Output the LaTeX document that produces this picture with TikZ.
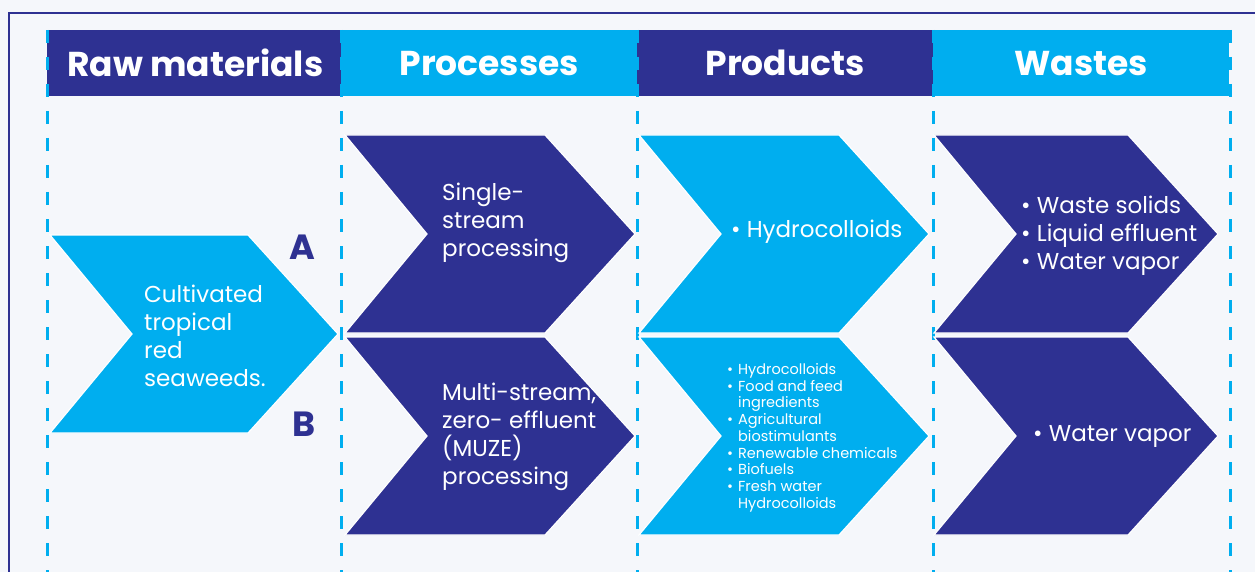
\documentclass[tikz,border=0pt]{standalone}
\usepackage{fontspec}
\setmainfont{Poppins}
\usetikzlibrary{calc}
\definecolor{navy}{HTML}{2E3192}
\definecolor{sky}{HTML}{00AEEF}
\definecolor{paper}{HTML}{F5F7FB}
\newcommand{\chevron}[3]{%
  \fill[#2, draw=white, line width=1.2pt] (#1) -- ++(#3-90,0) -- ++(90,99) -- ++(-90,99) -- ++(90-#3,0) -- ++(82,-99) -- cycle;
}
\tikzset{
  head/.style={anchor=north west, minimum width=296pt, minimum height=66pt, inner sep=0pt,
    text=white, font=\fontsize{34.5pt}{38pt}\selectfont\bfseries},
  body/.style={anchor=west, inner sep=0pt, text=white, align=left,
    font=\fontsize{23pt}{28pt}\selectfont},
  small/.style={anchor=west, inner sep=0pt, text=white,
    font=\fontsize{14.5pt}{16.7pt}\selectfont},
  letter/.style={inner sep=0pt, text=navy, font=\fontsize{35pt}{38pt}\selectfont\bfseries}
}
\begin{document}
\begin{tikzpicture}[x=1pt,y=-1pt]
    \fill[paper] (0,0) rectangle (1255,572);
    \useasboundingbox (0,0) rectangle (1255,572);
    \draw[navy, line width=2pt] (9,572) -- (9,13) -- (1255,13);
    \foreach \x/\name/\col [count=\i] in {47/Raw materials/navy, 341/Processes/sky, 637/Products/navy, 933/Wastes/sky}{
      \node[head, fill=\col] (head\i) at (\x,30) {\name};
    }
    \foreach \x in {47,341,637,933,1230}{
      \draw[sky, line width=3pt, dash pattern=on 13pt off 14pt] (\x,30) -- (\x,572);
    }
    \foreach \x/\y/\col/\w in {50/235/sky/288, 345/135/navy/290, 345/337/navy/290, 639/135/sky/290, 639/337/sky/290, 934/135/navy/284, 934/337/navy/284}{
      \chevron{\x,\y}{\col}{\w}
    }
    \node[body] (seaweed) at (144,336) {Cultivated\\tropical\\red\\seaweeds.};
    \node[body] (single) at (442,223) {Single-\\stream\\processing};
    \node[body] (muze) at (442,437) {Multi-stream,\\zero- effluent\\(MUZE)\\processing};
    \node[body] (prodA) at (731,232) {• Hydrocolloids};
    \node[small] (prodB) at (727,438) {\begin{tabular}{@{}l@{\hspace{5pt}}l@{}}
      •&Hydrocolloids\\ •&Food and feed\\ &ingredients\\ •&Agricultural\\ &biostimulants\\
      •&Renewable chemicals\\ •&Biofuels\\ •&Fresh water\\ &Hydrocolloids
    \end{tabular}};
    \node[body] (wasteA) at (1021,236) {• Waste solids\\• Liquid effluent\\• Water vapor};
    \node[body] (wasteB) at (1033,436) {• Water vapor};
    \node[letter] (optA) at (302,247) {A};
    \node[letter] (optB) at (304,424) {B};
\end{tikzpicture}
\end{document}
